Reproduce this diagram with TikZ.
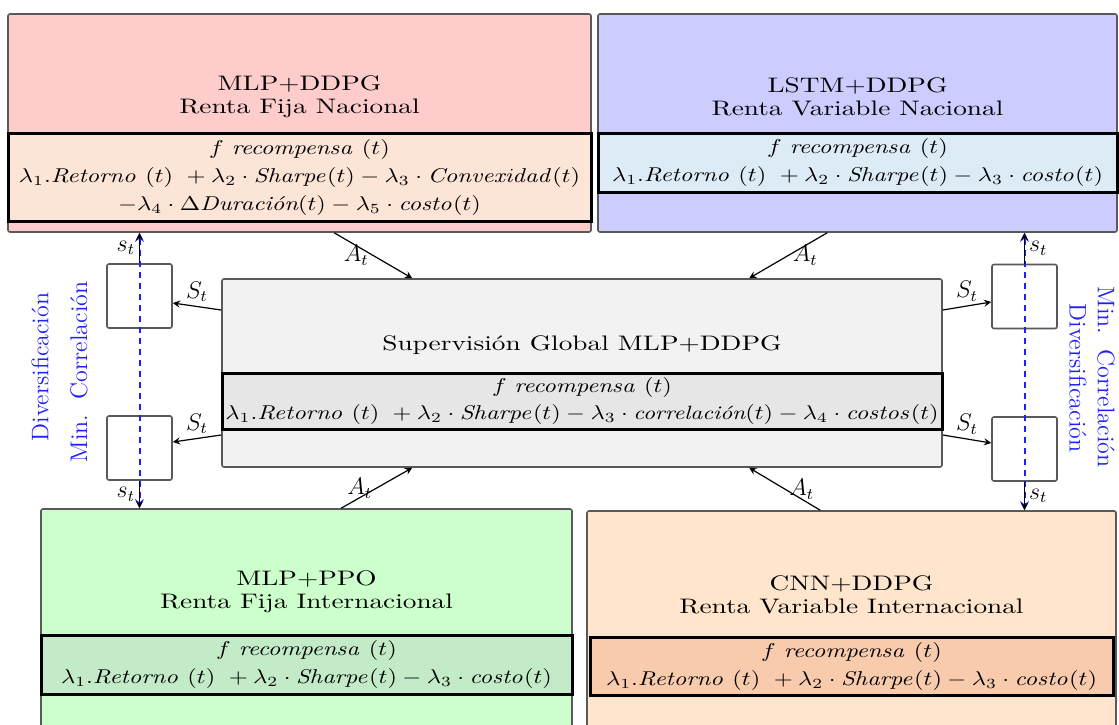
\documentclass[tikz,border=0pt]{standalone}
\usepackage{amsmath}
\usepackage{graphicx}
\usetikzlibrary{positioning, arrows}
\newcommand{\wide}[1]{\scalebox{1.3}[1]{#1}}
\newcommand{\weq}[1]{\scalebox{1.22}[1]{#1}}
\definecolor{redbox}{HTML}{FFCCCC}
\definecolor{redeq}{HTML}{FCE4D6}
\definecolor{bluebox}{HTML}{CCCCFF}
\definecolor{blueeq}{HTML}{DDEBF7}
\definecolor{greybox}{HTML}{F2F2F2}
\definecolor{greyeq}{HTML}{E6E6E6}
\definecolor{greenbox}{HTML}{CCFFCC}
\definecolor{greeneq}{HTML}{C3EBC8}
\definecolor{orangebox}{HTML}{FFE5CC}
\definecolor{orangeeq}{HTML}{F8CBAD}
\definecolor{divblue}{RGB}{30,30,255}

\begin{document}
\begin{tikzpicture}[
		x=0.5pt, y=-0.5pt,
		>=stealth,
		agent/.style={draw=black!65, line width=0.8pt, rounded corners=1pt, inner sep=0pt},
		reward/.style={draw=black, line width=1.5pt, inner sep=0pt, align=center, font=\fontsize{10}{12}\selectfont},
		title/.style={align=center, font=\fontsize{10.5}{11.5}\selectfont},
		memory/.style={draw=black!65, line width=0.8pt, fill=white, rounded corners=1pt, minimum width=32.5pt, minimum height=32pt, inner sep=0pt},
		sig/.style={font=\large, inner sep=2pt},
		note/.style={text=divblue, font=\large},
		flow/.style={->, semithick},
		corr/.style={<->, divblue, line width=1pt, dash pattern=on 3pt off 2.5pt},
	]
	\useasboundingbox (0,0) rectangle (1119,724);
	\clip (0,0) rectangle (1119,724);

	% agentes
	\node[agent, fill=redbox, minimum width=291.5pt, minimum height=109pt] (mlpddpg) at (299.5,123) {};
	\node[reward, fill=redeq, minimum width=291.5pt, minimum height=44pt] (eq_mlpddpg) at (299.5,177) {\weq{$f\ \mathit{recompensa}\ (t)$}\\[2pt] \weq{$\lambda_1.\mathit{Retorno}\ (t)\ +\lambda_2\cdot\mathit{Sharpe}(t)-\lambda_3\cdot\mathit{Convexidad}(t)$}\\[2pt] \weq{$-\lambda_4\cdot\Delta\textit{Duración}(t)-\lambda_5\cdot\mathit{costo}(t)$}};
	\node[title] (t_mlpddpg) at (299.5,97) {\wide{MLP+DDPG}\\ \wide{Renta Fija Nacional}};

	\node[agent, fill=bluebox, minimum width=259.5pt, minimum height=109pt] (lstmddpg) at (857.5,123) {};
	\node[reward, fill=blueeq, minimum width=259.5pt, minimum height=29.5pt] (eq_lstmddpg) at (857.5,162.5) {\weq{$f\ \mathit{recompensa}\ (t)$}\\[2pt] \weq{$\lambda_1.\mathit{Retorno}\ (t)\ +\lambda_2\cdot\mathit{Sharpe}(t)-\lambda_3\cdot\mathit{costo}(t)$}};
	\node[title] (t_lstmddpg) at (857.5,97) {\wide{LSTM+DDPG}\\ \wide{Renta Variable Nacional}};

	\node[agent, fill=greybox, minimum width=360pt, minimum height=94pt] (global) at (582,373) {};
	\node[reward, fill=greyeq, minimum width=360pt, minimum height=28pt, font=\fontsize{9.6}{11.5}\selectfont] (eq_global) at (582,401) {\weq{$f\ \mathit{recompensa}\ (t)$}\\[2pt] \weq{$\lambda_1.\mathit{Retorno}\ (t)\ +\lambda_2\cdot\mathit{Sharpe}(t)-\lambda_3\cdot\textit{correlación}(t)-\lambda_4\cdot\mathit{costos}(t)$}};
	\node[title] (t_global) at (582,345) {\wide{Supervisión Global MLP+DDPG}};

	\node[agent, fill=greenbox, minimum width=265.5pt, minimum height=115.5pt] (mlpppo) at (306.5,624.5) {};
	\node[reward, fill=greeneq, minimum width=265.5pt, minimum height=29.5pt] (eq_mlpppo) at (306.5,664.5) {\weq{$f\ \mathit{recompensa}\ (t)$}\\[2pt] \weq{$\lambda_1.\mathit{Retorno}\ (t)\ +\lambda_2\cdot\mathit{Sharpe}(t)-\lambda_3\cdot\mathit{costo}(t)$}};
	\node[title] (t_mlpppo) at (306.5,592) {\wide{MLP+PPO}\\ \wide{Renta Fija Internacional}};

	\node[agent, fill=orangebox, minimum width=264.5pt, minimum height=114.5pt] (cnnddpg) at (851.5,625.5) {};
	\node[reward, fill=orangeeq, minimum width=261.5pt, minimum height=29pt] (eq_cnnddpg) at (851.5,666) {\weq{$f\ \mathit{recompensa}\ (t)$}\\[2pt] \weq{$\lambda_1.\mathit{Retorno}\ (t)\ +\lambda_2\cdot\mathit{Sharpe}(t)-\lambda_3\cdot\mathit{costo}(t)$}};
	\node[title] (t_cnnddpg) at (851.5,595) {\wide{CNN+DDPG}\\ \wide{Renta Variable Internacional}};

	% memorias de estado
	\node[memory] (mem_ul) at (139.5,296) {};
	\node[memory] (mem_ll) at (139.5,448) {};
	\node[memory] (mem_ur) at (1024.5,296.5) {};
	\node[memory] (mem_lr) at (1024.5,449) {};

	% acciones
	\draw[flow] ([xshift=163.5pt]mlpddpg.south west) -- node[sig, left] {$A_t$} ([xshift=95.5pt]global.north west);
	\draw[flow] ([xshift=115pt]lstmddpg.south west) -- node[sig, right] {$A_t$} ([xshift=264pt]global.north west);
	\draw[flow] ([xshift=150.5pt]mlpppo.north west) -- node[sig, left] {$A_t$} ([xshift=95.5pt]global.south west);
	\draw[flow] ([xshift=117pt]cnnddpg.north west) -- node[sig, right] {$A_t$} ([xshift=264pt]global.south west);

	% estados
	\draw[flow] ([yshift=31.5pt]global.west) -- node[sig, above] {$S_t$} ([yshift=-3.5pt]mem_ul.east);
	\draw[flow] ([yshift=-31pt]global.west) -- node[sig, above] {$S_t$} ([yshift=3pt]mem_ll.east);
	\draw[flow] ([yshift=31.5pt]global.east) -- node[sig, above] {$S_t$} ([yshift=-2.75pt]mem_ur.west);
	\draw[flow] ([yshift=-31pt]global.east) -- node[sig, above] {$S_t$} ([yshift=3pt]mem_lr.west);

	\draw[corr] (mem_ul.north |- mlpddpg.south) -- (mem_ll.south |- mlpppo.north);
	\draw[corr] (mem_ur.north |- lstmddpg.south) -- (mem_lr.south |- cnnddpg.north);

	\draw[flow] (mem_ul.north) -- node[sig, left] {$s_t$} (mem_ul.north |- mlpddpg.south);
	\draw[flow] (mem_ll.south) -- node[sig, left] {$s_t$} (mem_ll.south |- mlpppo.north);
	\draw[flow] (mem_ur.north) -- node[sig, right] {$s_t$} (mem_ur.north |- lstmddpg.south);
	\draw[flow] (mem_lr.south) -- node[sig, right] {$s_t$} (mem_lr.south |- cnnddpg.north);

	% diversificacion
	\node[note, rotate=90] (div_l) at (40,367) {Diversificación};
	\node[note, rotate=90] (cor_l) at (79,372) {Min.~~Correlación};
	\node[note, rotate=-90] (cor_r) at (1106,377) {Min.~~Correlación};
	\node[note, rotate=-90] (div_r) at (1078,378) {Diversificación};
\end{tikzpicture}
\end{document}
